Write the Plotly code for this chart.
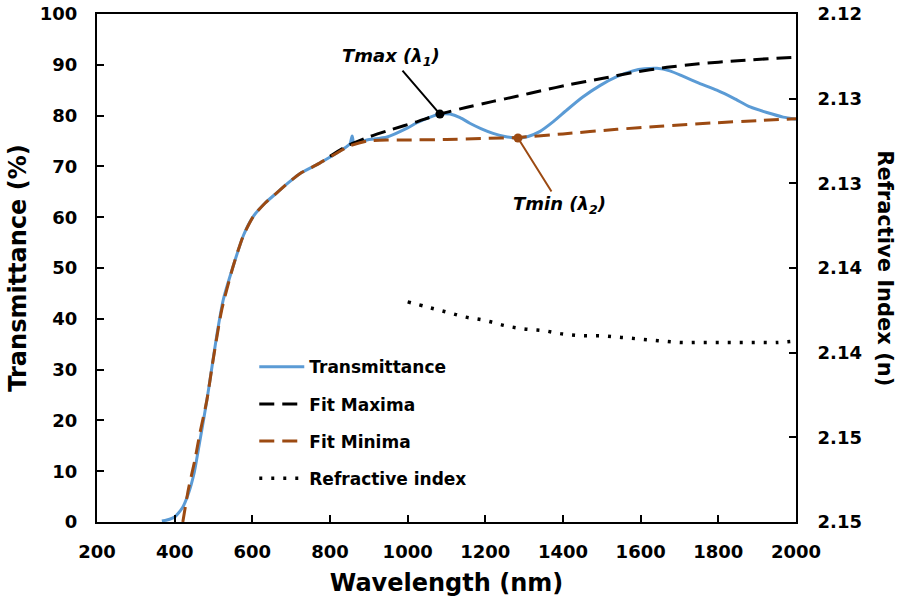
import plotly.graph_objects as go

# ---- data ----
wl_T = [367, 380, 400, 420, 435, 450, 465, 483, 496, 509, 525, 550, 577, 603, 633, 663, 693, 723,
        765, 808, 843, 852, 857, 862, 895, 947, 1000, 1024, 1055, 1083, 1109, 1135, 1160, 1190,
        1220, 1250, 1281, 1310, 1341, 1375, 1410, 1450, 1495, 1540, 1580, 1610, 1642, 1675, 1710,
        1750, 1796, 1840, 1882, 1925, 1967, 2000]
T = [0.2, 0.4, 1.0, 2.8, 5.5, 9.6, 16.0, 24.0, 30.5, 37.0, 43.7, 50.2, 56.4, 60.2, 62.8, 64.8, 66.8, 68.6,
     70.3, 72.2, 73.9, 74.5, 76.0, 74.6, 75.2, 75.8, 77.6, 78.6, 79.6, 80.3, 80.3, 79.6, 78.5, 77.4,
     76.5, 75.9, 75.6, 75.9, 76.9, 78.8, 81.1, 83.6, 85.9, 87.7, 88.8, 89.2, 89.3, 88.8, 87.7,
     86.4, 85.0, 83.4, 81.7, 80.6, 79.7, 79.3]

wl_max = [800, 843, 900, 960, 1020, 1083, 1150, 1220, 1281, 1350, 1410, 1500, 1580, 1668, 1750, 1850, 1950, 2000]
T_max = [72.0, 74.0, 75.8, 77.3, 78.7, 80.3, 81.6, 82.8, 83.8, 85.0, 86.0, 87.3, 88.5, 89.5, 90.2, 90.8, 91.3, 91.5]

wl_min = [421, 435, 452, 465, 483, 499, 521, 550, 577, 603, 633, 663, 693, 723, 765, 808, 850, 895,
          950, 1000, 1100, 1200, 1284, 1400, 1539, 1650, 1796, 1900, 2000]
T_min = [0.0, 6.3, 12.2, 17.5, 24.0, 31.9, 41.7, 50.2, 56.4, 60.2, 62.8, 64.8, 66.8, 68.6, 70.3, 72.2, 74.0, 75.0,
         75.2, 75.2, 75.3, 75.5, 75.7, 76.4, 77.3, 77.9, 78.6, 79.0, 79.4]

wl_n = [1000, 1050, 1100, 1150, 1200, 1250, 1300, 1350, 1400, 1450, 1500, 1550, 1600, 1650, 1700,
        1750, 1800, 1850, 1900, 1950, 2000]
n_vals = [2.1370, 2.1373, 2.1376, 2.1379, 2.1381, 2.1384, 2.1386, 2.1387, 2.1389, 2.1390, 2.1390,
          2.1391, 2.1392, 2.1393, 2.1394, 2.1394, 2.1394, 2.1394, 2.1394, 2.1394, 2.1393]

tmax_pt = (1083, 80.3)
tmin_pt = (1284, 75.6)

x_ticks = [200, 400, 600, 800, 1000, 1200, 1400, 1600, 1800, 2000]
y_ticks = [0, 10, 20, 30, 40, 50, 60, 70, 80, 90, 100]
n_tickvals = [2.120, 2.125, 2.130, 2.135, 2.140, 2.145, 2.150]
n_ticktext = ["2.12", "2.13", "2.13", "2.14", "2.14", "2.15", "2.15"]

BLUE = "#5B9BD5"
BROWN = "#9C4A12"
FONT = "DejaVu Sans"

fig = go.Figure()
fig.add_trace(go.Scatter(x=wl_T, y=T, mode="lines", name="Transmittance", legendgroup="a",
                         line=dict(color=BLUE, width=3, shape="spline", smoothing=0.6)))
fig.add_trace(go.Scatter(x=wl_max, y=T_max, mode="lines", name="Fit Maxima", legendgroup="b",
                         line=dict(color="black", width=3, dash="15px,8px", shape="spline", smoothing=0.6)))
fig.add_trace(go.Scatter(x=wl_min, y=T_min, mode="lines", name="Fit Minima", legendgroup="c",
                         line=dict(color=BROWN, width=3, dash="15px,8px", shape="spline", smoothing=0.6)))
fig.add_trace(go.Scatter(x=wl_n, y=n_vals, mode="lines", name="Refractive index", legendgroup="d",
                         yaxis="y2",
                         line=dict(color="black", width=3.5, dash="3px,9px", shape="spline")))
fig.add_trace(go.Scatter(x=[tmax_pt[0]], y=[tmax_pt[1]], mode="markers", showlegend=False,
                         marker=dict(color="black", size=9)))
fig.add_trace(go.Scatter(x=[tmin_pt[0]], y=[tmin_pt[1]], mode="markers", showlegend=False,
                         marker=dict(color=BROWN, size=9)))

fig.add_annotation(x=tmax_pt[0], y=tmax_pt[1], xref="x", yref="y",
                   text="<b><i>Tmax (λ<sub>1</sub>)</i></b>", showarrow=True, arrowhead=0,
                   arrowwidth=2, arrowcolor="black", ax=-49, ay=-57, standoff=0,
                   font=dict(family=FONT, size=18, color="black"))
fig.add_annotation(x=tmin_pt[0], y=tmin_pt[1], xref="x", yref="y",
                   text="<b><i>Tmin (λ<sub>2</sub>)</i></b>", showarrow=True, arrowhead=0,
                   arrowwidth=2, arrowcolor=BROWN, ax=42, ay=67, standoff=0,
                   font=dict(family=FONT, size=18, color="black"))

fig.add_annotation(x=1.127, y=0.5, xref="paper", yref="paper", text="<b>Refractive Index (n)</b>",
                   textangle=90, showarrow=False, xanchor="center", yanchor="middle",
                   font=dict(family=FONT, size=21, color="black"))

axis_common = dict(showline=True, linecolor="black", linewidth=2, ticks="inside", ticklen=7,
                   tickcolor="black", tickwidth=2, showgrid=False, zeroline=False, automargin=False,
                   tickfont=dict(family=FONT, size=18, color="black", weight="bold"))

fig.update_layout(
    width=900, height=607,
    margin=dict(l=97, r=104, t=14, b=85),
    paper_bgcolor="white", plot_bgcolor="white",
    font=dict(family=FONT, color="black"),
    xaxis=dict(range=[200, 2000], tickvals=x_ticks, mirror=True, ticklabelstandoff=12,
               title=dict(text="<b>Wavelength (nm)</b>", font=dict(family=FONT, size=24), standoff=14),
               **axis_common),
    yaxis=dict(range=[0, 100], tickvals=y_ticks, ticklabelstandoff=14,
               title=dict(text="<b>Transmittance (%)</b>", font=dict(family=FONT, size=24), standoff=6),
               **axis_common),
    yaxis2=dict(range=[2.150, 2.120], overlaying="y", side="right", tickvals=n_tickvals,
                ticktext=n_ticktext, ticklabelstandoff=16, **axis_common),
    legend=dict(x=0.225, y=0.34, xanchor="left", yanchor="top", bgcolor="rgba(0,0,0,0)",
                font=dict(family=FONT, size=17, color="black", weight="bold"),
                tracegroupgap=12, itemwidth=45),
    showlegend=True,
)

fig.write_html("out.html", config={"displayModeBar": False},
               post_script="document.body.style.margin='0';")
